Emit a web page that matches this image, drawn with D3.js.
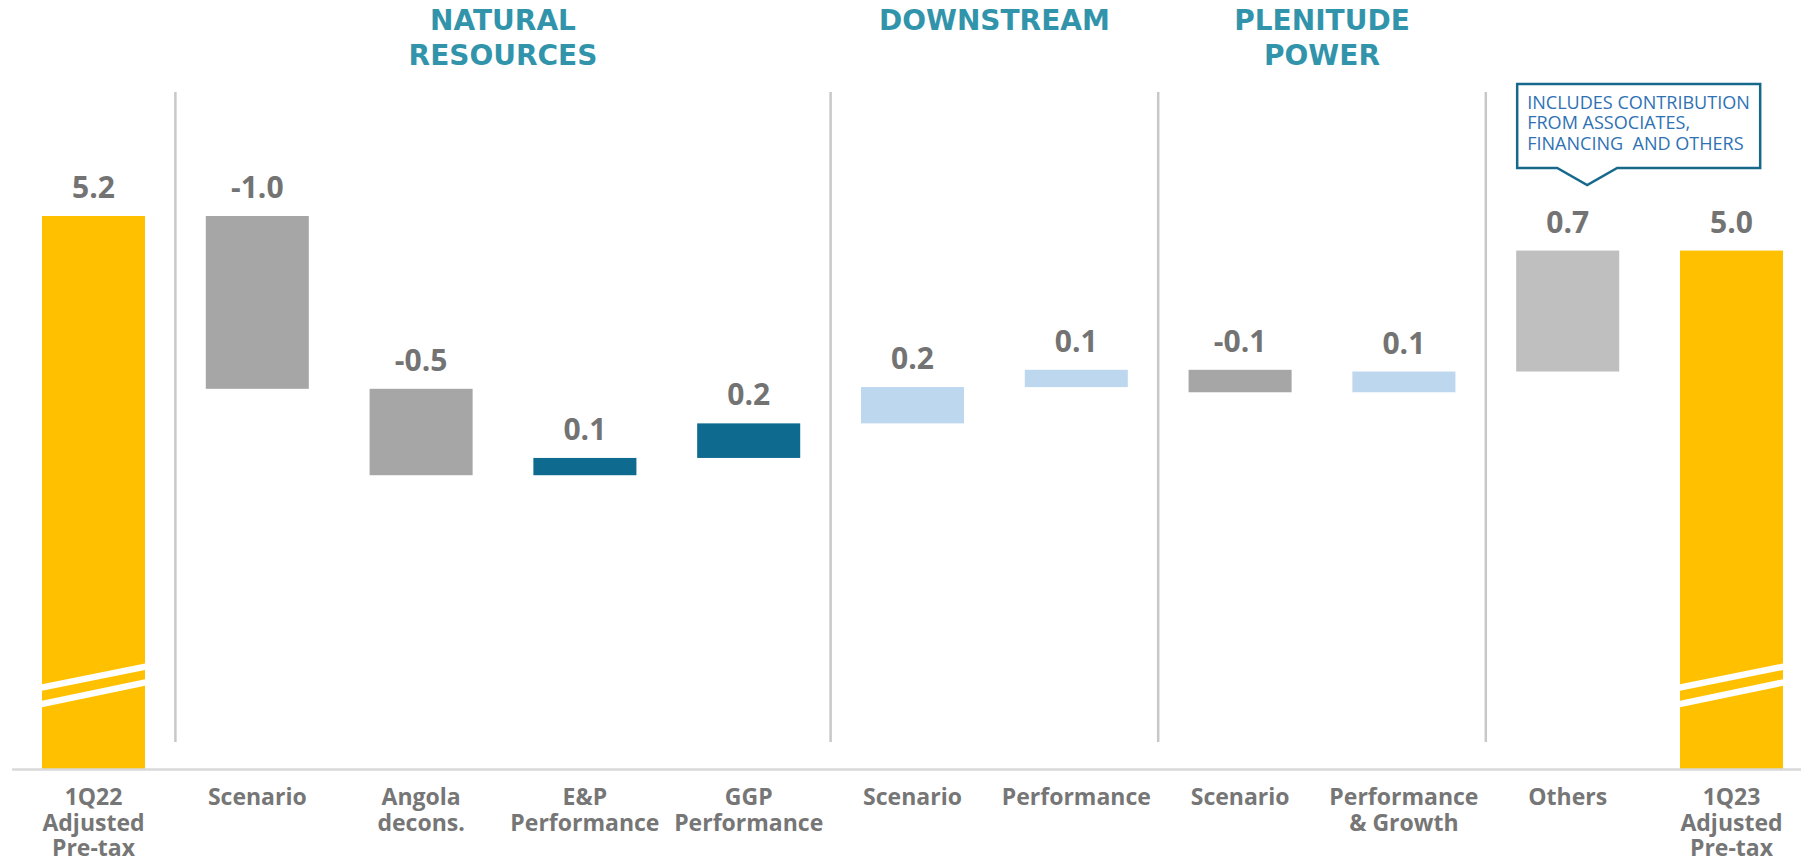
<!DOCTYPE html>
<html>
<head>
<meta charset="utf-8">
<script src="https://cdn.jsdelivr.net/npm/d3@7"></script>
<style>
  body { margin: 0; background: #fff; overflow: hidden; }
  .cat-label { font-family: "Open Sans", sans-serif; font-weight: 700; font-size: 23px; fill: #767676; }
  .value-label { font-family: "Open Sans", sans-serif; font-weight: 700; font-size: 30px; fill: #737373; }
  .group-title { font-family: "DejaVu Sans", sans-serif; font-weight: 700; font-size: 28px; fill: #3194ab; }
  .note-text { font-family: "Open Sans", sans-serif; font-size: 19px; fill: #2e72b4; }
</style>
</head>
<body>
<div id="chart"></div>
<script>

// Data
const catIds = ["start", "nrScenario", "angola", "ep", "ggp", "dsScenario", "dsPerf", "plScenario", "plPerf", "others", "end"];
const catLabels = [
    ["1Q22", "Adjusted", "Pre-tax"],
    ["Scenario"],
    ["Angola", "decons."],
    ["E&P", "Performance"],
    ["GGP", "Performance"],
    ["Scenario"],
    ["Performance"],
    ["Scenario"],
    ["Performance", "& Growth"],
    ["Others"],
    ["1Q23", "Adjusted", "Pre-tax"]
];
const values = [5.2, -1.0, -0.5, 0.1, 0.2, 0.21, 0.1, -0.13, 0.12, 0.7, 5.0];
const kinds = ["total", "neg", "neg", "nr", "nr", "pos", "pos", "neg", "pos", "other", "total"];

const groupTitles = [
    {lines: ["NATURAL", "RESOURCES"], from: "nrScenario", to: "ggp"},
    {lines: ["DOWNSTREAM"], from: "dsScenario", to: "dsPerf"},
    {lines: ["PLENITUDE", "POWER"], from: "plScenario", to: "plPerf"}
];
const dividersAfter = ["start", "ggp", "dsPerf", "plPerf"];
const noteLines = ["INCLUDES CONTRIBUTION", "FROM ASSOCIATES,", "FINANCING\u00a0 AND OTHERS"];

const colors = {
    total: "#ffc000",
    neg: "#a6a6a6",
    nr: "#0e6a8e",
    pos: "#bdd7ee",
    other: "#bfbfbf"
};

// Layout
const width = 1801, height = 859;
const baseY = 769;

const svg = d3.select("#chart").append("svg")
    .attr("width", width)
    .attr("height", height);

// Scales
const x = d3.scaleBand()
    .domain(catIds)
    .range([11.6, 1813.4])
    .paddingInner(0.371)
    .paddingOuter(0.1855);

// value axis is broken: totals start at the axis floor
const y = d3.scaleLinear()
    .domain([2, 5.2])
    .range([baseY, 216]);

// Waterfall rows
let running = 0;
const rows = catIds.map(function (id, i) {
    let v = values[i], y0, y1;
    if (kinds[i] === "total") {
        y0 = y.domain()[0];
        y1 = v;
        running = v;
    } else {
        y0 = running;
        y1 = running + v;
        running = y1;
    }
    return {id: id, value: v, kind: kinds[i], lo: Math.min(y0, y1), hi: Math.max(y0, y1), labels: catLabels[i]};
});

// Divider lines between sections
const step = x.step();
svg.selectAll(".divider")
    .data(dividersAfter)
    .enter().append("line")
    .attr("class", "divider")
    .attr("x1", d => x(d) + x.bandwidth() + (step - x.bandwidth()) / 2)
    .attr("x2", d => x(d) + x.bandwidth() + (step - x.bandwidth()) / 2)
    .attr("y1", 92)
    .attr("y2", 742)
    .attr("stroke", "#c8c8c8")
    .attr("stroke-width", 2.5);

// Bars
svg.selectAll(".bar")
    .data(rows)
    .enter().append("rect")
    .attr("class", "bar")
    .attr("x", d => x(d.id))
    .attr("width", x.bandwidth())
    .attr("y", d => y(d.hi))
    .attr("height", d => y(d.lo) - y(d.hi))
    .attr("fill", d => colors[d.kind]);

// Axis break marks on the total bars
const breakBands = [[81.5, 102.3], [65, 86.5]]; // offsets above the baseline (left, right)
rows.filter(d => d.kind === "total").forEach(function (d) {
    let x0 = x(d.id), x1 = x(d.id) + x.bandwidth();
    breakBands.forEach(function (b) {
        let yl = baseY - b[0], yr = baseY - b[1], t = 3.3;
        svg.append("polygon")
            .attr("points", [[x0, yl - t], [x1, yr - t], [x1, yr + t], [x0, yl + t]].join(" "))
            .attr("fill", "#fff");
    });
});

// Axis line
svg.append("g")
    .attr("class", "x-axis")
    .attr("transform", "translate(0," + baseY + ")")
    .call(d3.axisBottom(x).tickSize(0).tickFormat(""))
    .call(g => g.select(".domain").attr("stroke", "#d9d9d9").attr("stroke-width", 2.5));

// Value labels
svg.selectAll(".value-label")
    .data(rows)
    .enter().append("text")
    .attr("class", "value-label")
    .attr("x", d => x(d.id) + x.bandwidth() / 2)
    .attr("y", d => y(d.hi) - 18)
    .attr("text-anchor", "middle")
    .text(d => d.value.toFixed(1));

// Category labels
const catText = svg.selectAll(".cat-label")
    .data(rows)
    .enter().append("text")
    .attr("class", "cat-label")
    .attr("text-anchor", "middle")
    .attr("transform", d => "translate(" + (x(d.id) + x.bandwidth() / 2) + ",805)");

catText.selectAll("tspan")
    .data(d => d.labels)
    .enter().append("tspan")
    .attr("x", 0)
    .attr("y", (d, i) => i * 25.5)
    .text(d => d);

// Group titles
groupTitles.forEach(function (g) {
    let cx = (x(g.from) + x(g.to) + x.bandwidth()) / 2;
    let t = svg.append("text")
        .attr("class", "group-title")
        .attr("text-anchor", "middle");
    g.lines.forEach(function (line, i) {
        t.append("tspan")
            .attr("x", cx)
            .attr("y", 30 + i * 35)
            .text(line);
    });
});

// Callout over "Others"
const ox = x("others");
const box = {left: ox + 1, right: ox + 244, top: 84, bottom: 168};
const tip = {x: ox + 71, y: 185};
svg.append("path")
    .attr("d", "M" + box.left + "," + box.top
        + "H" + box.right
        + "V" + box.bottom
        + "H" + (ox + 101)
        + "L" + tip.x + "," + tip.y
        + "L" + (ox + 41) + "," + box.bottom
        + "H" + box.left + "Z")
    .attr("fill", "#fff")
    .attr("stroke", "#17698c")
    .attr("stroke-width", 2.5);

// narrow the note text horizontally, like the condensed font of the original
svg.append("text")
    .attr("class", "note-text")
    .attr("transform", "translate(" + (ox + 11) + ",0) scale(0.95,1)")
    .selectAll("tspan")
    .data(noteLines)
    .enter().append("tspan")
    .attr("x", 0)
    .attr("y", (d, i) => 109 + i * 20.5)
    .text(d => d);

</script>
</body>
</html>
